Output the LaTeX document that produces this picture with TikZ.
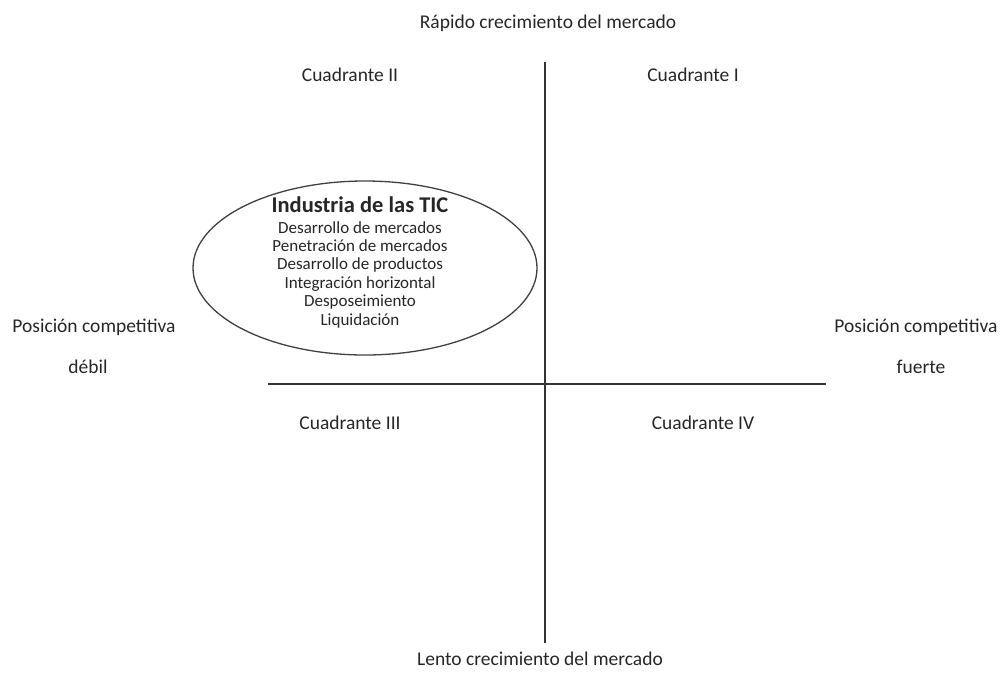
\documentclass[tikz,border=0pt]{standalone}
\usepackage{fontspec}
\setmainfont{Carlito}
\begin{document}
\begin{tikzpicture}[x=1pt,y=-1pt,
  axis/.style={draw=black!80,line width=1.3pt},
  lbl/.style={font=\fontsize{19.5}{22}\selectfont,text=black!85,inner sep=0pt,anchor=base},
  item/.style={font=\fontsize{17}{18.5}\selectfont,text=black!85,inner sep=0pt,anchor=base}]
\useasboundingbox (0,0) rectangle (1003,681);
% axes
\coordinate (vt) at (545,62);
\coordinate (vb) at (545,643);
\coordinate (hl) at (268,384);
\coordinate (hr) at (826,384);
\draw[axis] (vt) -- (vb);
\draw[axis] (hl) -- (hr);
% axis labels
\node[lbl] (top) at (548,28) {Rápido crecimiento del mercado};
\node[lbl] (bot) at (540,665) {Lento crecimiento del mercado};
\node[lbl] (lw1) at (94,332) {Posición competitiva};
\node[lbl] (lw2) at (88,373) {débil};
\node[lbl] (rs1) at (916,332) {Posición competitiva};
\node[lbl] (rs2) at (921,373) {fuerte};
% quadrants
\node[lbl] (q2) at (350,81) {Cuadrante II};
\node[lbl] (q1) at (693,81) {Cuadrante I};
\node[lbl] (q3) at (350,429) {Cuadrante III};
\node[lbl] (q4) at (703,429) {Cuadrante IV};
% strategy ellipse
\draw[black!75,line width=1.3pt] (365,268) ellipse [x radius=172, y radius=87];
\node[font=\bfseries\fontsize{22.5}{24}\selectfont,text=black!85,inner sep=0pt,anchor=base] (tic) at (360,212) {Industria de las TIC};
\foreach \t [count=\i] in {Desarrollo de mercados,Penetración de mercados,Desarrollo de productos,Integración horizontal,Desposeimiento,Liquidación}
  \node[item] (s\i) at (360,{233+18.4*(\i-1)}) {\t};
\end{tikzpicture}
\end{document}
